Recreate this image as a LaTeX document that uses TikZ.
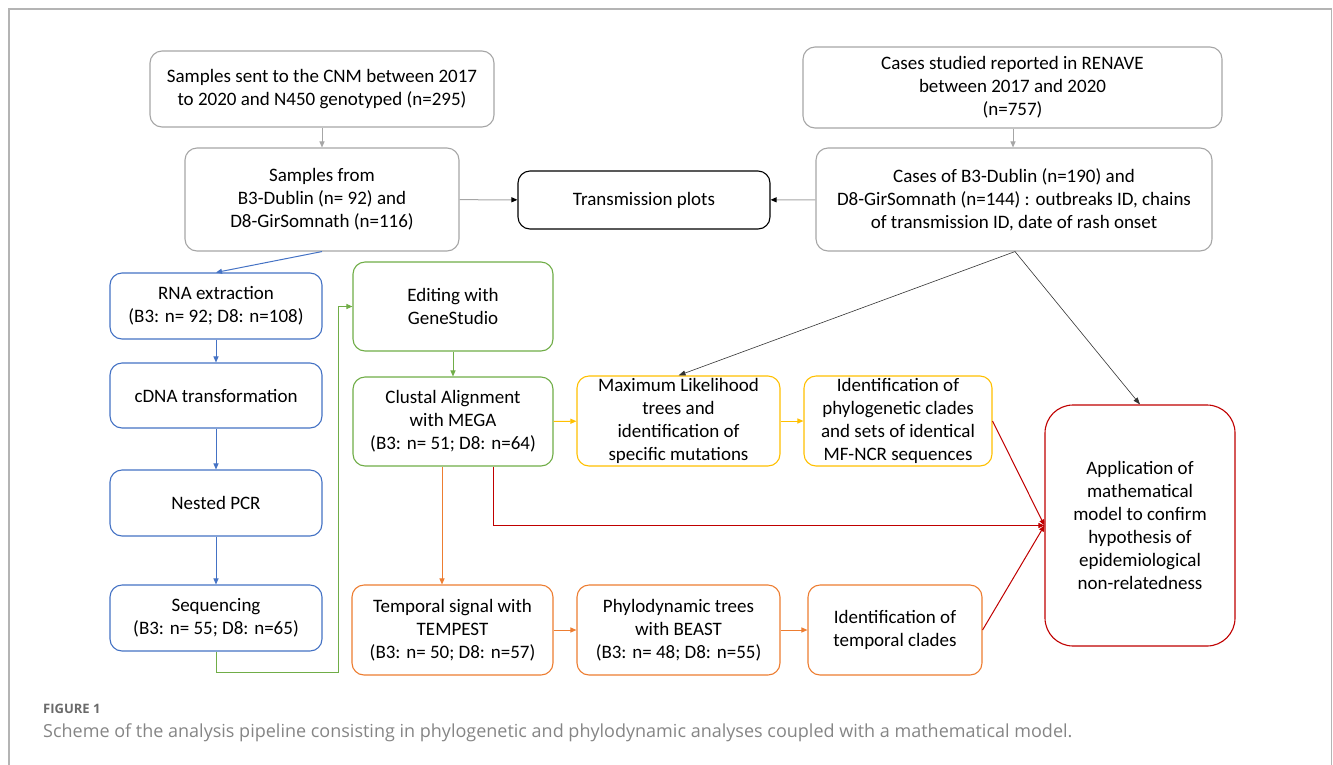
\documentclass[tikz,border=0pt]{standalone}
\usepackage{fontspec}
\setmainfont{Carlito}
\newfontfamily\capfont{Open Sans}
\usetikzlibrary{arrows.meta,calc}
\definecolor{bxgray}{HTML}{A6A6A6}
\definecolor{framec}{HTML}{B4B4B4}
\definecolor{cblue}{HTML}{4472C4}
\definecolor{cgreen}{HTML}{70AD47}
\definecolor{cyellow}{HTML}{FFC000}
\definecolor{corange}{HTML}{ED7D31}
\definecolor{cred}{HTML}{C00000}
\definecolor{capgray}{HTML}{858585}
\definecolor{figgray}{HTML}{6A6A6A}
\begin{document}
\begin{tikzpicture}[x=1pt,y=-1pt,
  box/.style={draw, rounded corners=12pt, line width=1.1pt, inner sep=0pt, align=center,
    font=\fontsize{19}{23}\selectfont, fill=white},
  sz/.style 2 args={minimum width=#1, minimum height=#2},
  tip/.style={-{Triangle[length=6pt,width=5pt]}},
  conn/.style={tip, line width=1pt},
  thinarr/.style={-{Triangle[length=7pt,width=5pt]}, line width=0.6pt, draw=black!80},
  captxt/.style={inner sep=0pt, anchor=base west}]
\useasboundingbox (0,0) rectangle (1333,764);
\draw[framec, line width=1.5pt] (9,770) -- (9,9) -- (1331.5,9) -- (1331.5,770);

% top nodes
\node[box, draw=bxgray, sz={344pt}{76pt}] (s1) at (322,89) {Samples sent to the CNM between 2017\\to 2020 and N450 genotyped (n=295)};
\node[box, draw=bxgray, sz={274pt}{103pt}] (s2) at (322,199.5) {Samples from\\B3-Dublin (n= 92) and\\D8-GirSomnath (n=116)};
\node[box, draw=black, sz={252pt}{58pt}] (tp) at (644,200) {Transmission plots};
\node[box, draw=bxgray, sz={419pt}{81pt}] (c1) at (1012.5,87.5) {Cases studied reported in RENAVE\\between 2017 and 2020\\(n=757)};
\node[box, draw=bxgray, sz={396pt}{103pt}] (c2) at (1014,199.5) {Cases of B3-Dublin (n=190) and\\D8-GirSomnath (n=144) : outbreaks ID, chains\\of transmission ID, date of rash onset};

% blue column
\node[box, draw=cblue, sz={212pt}{66pt}] (rna) at (216,306) {RNA extraction\\(B3: n= 92; D8: n=108)};
\node[box, draw=cblue, sz={212pt}{65pt}] (cdna) at (216,395.5) {cDNA transformation};
\node[box, draw=cblue, sz={212pt}{66pt}] (pcr) at (216,503) {Nested PCR};
\node[box, draw=cblue, sz={212pt}{66pt}] (seq) at (216,618) {Sequencing\\(B3: n= 55; D8: n=65)};

% green
\node[box, draw=cgreen, sz={200pt}{89pt}] (edit) at (453,306.5) {Editing with\\GeneStudio};
\node[box, draw=cgreen, sz={200pt}{89pt}] (clus) at (453,421.5) {Clustal Alignment\\with MEGA\\(B3: n= 51; D8: n=64)};

% yellow
\node[box, draw=cyellow, sz={203pt}{90pt}] (ml) at (678.5,421) {Maximum Likelihood\\trees and\\identification of\\specific mutations};
\node[box, draw=cyellow, sz={188pt}{90pt}] (idp) at (898,421) {Identification of\\phylogenetic clades\\and sets of identical\\MF-NCR sequences};

% orange
\node[box, draw=corange, sz={201pt}{90pt}] (temp) at (452.5,630) {Temporal signal with\\TEMPEST\\(B3: n= 50; D8: n=57)};
\node[box, draw=corange, sz={203pt}{90pt}] (phy) at (678.5,630) {Phylodynamic trees\\with BEAST\\(B3: n= 48; D8: n=55)};
\node[box, draw=corange, sz={174pt}{90pt}] (idt) at (895,630) {Identification of\\temporal clades};

% red
\node[box, draw=cred, rounded corners=28pt, sz={190pt}{241pt}] (app) at (1140,525.5) {Application of\\mathematical\\model to confirm\\hypothesis of\\epidemiological\\non-relatedness};

% connectors
\draw[conn, draw=bxgray] (s1) -- (s2);
\draw[conn, draw=bxgray] (c1.south -| 1013,0) -- (c2.north -| 1013,0);
\draw[conn, draw=bxgray, -{Triangle[length=6pt,width=5pt,color=black]}] (s2) -- (tp);
\draw[conn, draw=bxgray, -{Triangle[length=6pt,width=5pt,color=black]}] (c2) -- (tp);

\draw[conn, draw=cblue] (s2.south) -- (rna.north);
\draw[conn, draw=cblue] (rna) -- (cdna);
\draw[conn, draw=cblue] (cdna) -- (pcr);
\draw[conn, draw=cblue] (pcr) -- (seq);

\coordinate (g1) at (338,672);
\draw[conn, draw=cgreen] (seq.south) |- (g1) |- (edit.west);
\draw[conn, draw=cgreen] (edit) -- (clus);

\draw[conn, draw=cyellow] (clus) -- (ml);
\draw[conn, draw=cyellow] (ml) -- (idp);

\draw[conn, draw=corange] ([xshift=-11pt]clus.south) -- ([xshift=-11pt]clus.south |- temp.north);
\draw[conn, draw=corange] (temp) -- (phy);
\draw[conn, draw=corange] (phy) -- (idt);

\draw[conn, draw=cred] ([xshift=40pt]clus.south) |- (app.west);
\draw[conn, draw=cred] (idp.east) -- (app.west);
\draw[conn, draw=cred] (idt.east) -- (app.west);

\draw[thinarr] ([xshift=1pt]c2.south) -- (ml.north);
\draw[thinarr] ([xshift=1pt]c2.south) -- (app.north);

% caption
\node[captxt, font=\capfont\bfseries\fontsize{13}{15}\selectfont, text=figgray] (fig) at (43,713) {FIGURE 1};
\node[captxt, font=\capfont\fontsize{18}{21}\selectfont, text=capgray] (capt) at (43,737) {Scheme of the analysis pipeline consisting in phylogenetic and phylodynamic analyses coupled with a mathematical model.};
\end{tikzpicture}
\end{document}
